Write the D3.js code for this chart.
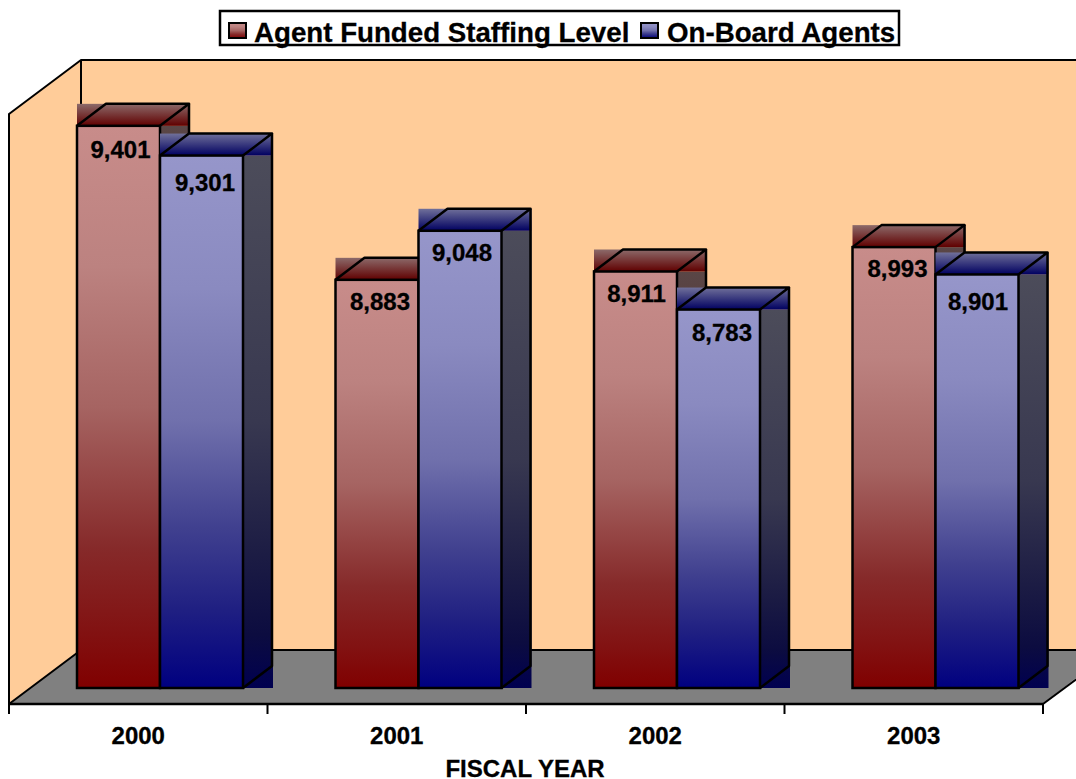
<!DOCTYPE html>
<html><head><meta charset="utf-8">
<script src="https://cdn.jsdelivr.net/npm/d3@7"></script>
<style>html,body{margin:0;padding:0;background:#fff;overflow:hidden}svg{display:block}
text{font-family:"Liberation Sans",Arial,sans-serif;font-weight:bold;fill:#000;stroke:#000;stroke-width:.3px}</style>
</head><body><svg id="c" width="1076" height="779"></svg>
<script>
const years = ["2000","2001","2002","2003"];
const seriesNames = ["Agent Funded Staffing Level","On-Board Agents"];
const funded = [9401,8883,8911,8993];
const onBoard = [9301,9048,8783,8901];
const seriesValues = [funded,onBoard];
const xTitle = "FISCAL YEAR";

const svg = d3.select("#c");
const W=1076, left=9, right=1043, axisY=704, dx=29, dy=22, backX=81, backTop=60, backBottom=650, barBase=688, SW=2.5;
const x = d3.scaleBand().domain(years).range([left,right]);
const inner = d3.scaleBand().domain(seriesNames).range([68,234]);
const y = d3.scaleLinear().domain([7510,9500]).range([barBase,96.4]);
const fmt = d3.format(",");
// small hand placement of the value labels, by year then series
const labelNudgeX=[[0,1.5],[1,0],[-1,1.5],[1.5,-1]];
const labelNudgeY=[[0,3],[-2,-2],[-2,-1],[-2,4]];

const defs = svg.append("defs");
function grad(id,stops){
  const g=defs.append("linearGradient").attr("id",id).attr("x1",0).attr("y1",0).attr("x2",0).attr("y2",1);
  stops.forEach(([o,c])=>g.append("stop").attr("offset",o).attr("stop-color",c));
}
const palette=[
 {front:[[0,"#C88C8A"],[.25,"#BC8280"],[.5,"#A66462"],[.75,"#862A2A"],[.9,"#821212"],[1,"#800000"]],
  top:[[0,"#8C6A6A"],[1,"#600000"]],side:[[0,"#5A4646"],[1,"#400000"]]},
 {front:[[0,"#9696CA"],[.25,"#8A8AC0"],[.5,"#7070AC"],[.7,"#40408F"],[.85,"#202082"],[1,"#000080"]],
  top:[[0,"#70709A"],[1,"#000060"]],side:[[0,"#4C4C5A"],[.5,"#383850"],[.75,"#1C1C44"],[.9,"#0C0C40"],[1,"#000050"]]}
];
palette.forEach((p,i)=>{grad("f"+i,p.front);grad("t"+i,p.top);grad("s"+i,p.side);});

const line=(pts)=>d3.line()(pts);
// walls
svg.append("rect").attr("x",backX).attr("y",backTop).attr("width",W-backX+2).attr("height",backBottom-backTop).attr("fill","#FFCC99");
svg.append("path").attr("d",line([[left,axisY],[left,114],[backX,backTop],[backX,backBottom],[left,axisY]])+"Z").attr("fill","#FFCC99");
svg.append("path").attr("d",line([[left,axisY],[backX,backBottom],[W,backBottom],[W,678],[right,axisY]])+"Z").attr("fill","#808080");
const stroke=(d)=>svg.append("path").attr("d",d).attr("fill","none").attr("stroke","#000").attr("stroke-width",2).attr("stroke-linejoin","round");
stroke(line([[left,axisY],[left,114],[backX,backTop],[W+2,backTop]]));
stroke(line([[backX,backTop],[backX,backBottom]]));
stroke(line([[left,axisY],[backX,backBottom],[W+2,backBottom]]));
stroke(line([[right,axisY],[W+2,678]]));

// bars
years.forEach((yr,c)=>{
  seriesNames.forEach((s,i)=>{
    const v=seriesValues[i][c], bw=inner.bandwidth(), x0=x(yr)+inner(s), x1=x0+bw, yt=y(v);
    const g=svg.append("g");
    g.append("rect").attr("x",x1).attr("y",yt).attr("width",dx+1).attr("height",barBase-yt).attr("fill",`url(#s${i})`);
    g.append("rect").attr("x",x0).attr("y",yt-dy).attr("width",bw+dx+1).attr("height",dy).attr("fill",`url(#t${i})`);
    g.append("rect").attr("x",x0).attr("y",yt).attr("width",bw).attr("height",barBase-yt).attr("fill",`url(#f${i})`).attr("stroke","#000").attr("stroke-width",SW);
    g.append("path").attr("d",line([[x0,yt],[x0+dx,yt-dy],[x1+dx,yt-dy],[x1,yt]])).attr("fill","none").attr("stroke","#000").attr("stroke-width",SW).attr("stroke-linejoin","round");
    g.append("path").attr("d",line([[x1+dx,yt-dy],[x1+dx,barBase-dy],[x1,barBase]])).attr("fill","none").attr("stroke","#000").attr("stroke-width",SW).attr("stroke-linejoin","round");
  });
});
// value labels on top
years.forEach((yr,c)=>{
  seriesNames.forEach((s,i)=>{
    const v=seriesValues[i][c], bw=inner.bandwidth(), x0=x(yr)+inner(s);
    svg.append("text").attr("x",x0+bw/2+2+labelNudgeX[c][i]).attr("y",y(v)+32+labelNudgeY[c][i]).attr("text-anchor","middle").attr("font-size",24).text(fmt(v));
  });
});

// axis
const ax=svg.append("g").attr("transform",`translate(0,${axisY})`);
ax.append("path").attr("d",line([[left,0],[right,0]])).attr("stroke","#000").attr("stroke-width",SW);
ax.selectAll("line.t").data([...years.map(d=>x(d)),right]).join("line").attr("class","t")
  .attr("x1",d=>d).attr("x2",d=>d).attr("y1",0).attr("y2",10).attr("stroke","#000").attr("stroke-width",2);
ax.selectAll("text").data(years).join("text").attr("x",d=>x(d)+x.bandwidth()/2).attr("y",40)
  .attr("text-anchor","middle").attr("font-size",24).text(d=>d);
svg.append("text").attr("x",525).attr("y",777).attr("text-anchor","middle").attr("font-size",24).text(xTitle);

// legend
const lg=svg.append("g");
lg.append("rect").attr("x",220).attr("y",11).attr("width",679).attr("height",34).attr("fill","#fff").attr("stroke","#000").attr("stroke-width",SW);
const legendX=[[229,254],[641,667]];
seriesNames.forEach((s,i)=>{
  lg.append("rect").attr("x",legendX[i][0]).attr("y",23).attr("width",17).attr("height",15).attr("fill",`url(#f${i})`).attr("stroke","#000").attr("stroke-width",2);
  lg.append("text").attr("x",legendX[i][1]).attr("y",42).attr("font-size",27.7).text(s);
});
</script></body></html>
